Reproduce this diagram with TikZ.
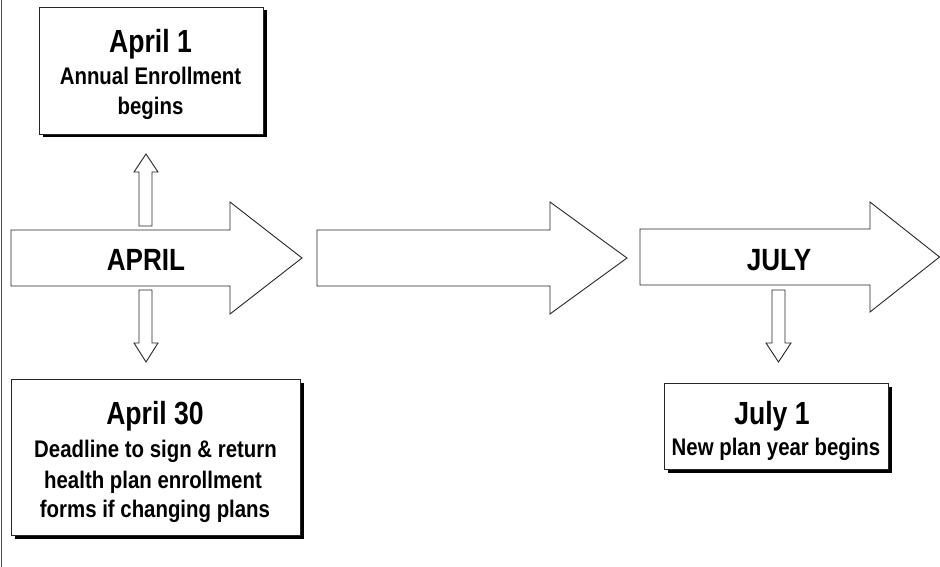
\documentclass[tikz,border=0pt]{standalone}
\usepackage{fontspec}
\setmainfont{Liberation Sans}
\newfontfamily\nar{Liberation Sans}[FakeStretch=0.85]
\newfontfamily\narT{Liberation Sans}[FakeStretch=0.83]
\usetikzlibrary{shadows}
\begin{document}
\begin{tikzpicture}[x=1pt,y=-1pt,
  box/.style={draw=black!85, line width=0.9pt, fill=white, inner sep=0pt, outer sep=0pt, anchor=north west,
    drop shadow={shadow xshift=3.5pt, shadow yshift=-3.5pt, fill=black, opacity=1}},
  blk/.style={draw=black!85, line width=0.9pt, fill=white, line join=miter},
  ttl/.style={font=\narT\bfseries\fontsize{32}{32}\selectfont, anchor=base, inner sep=0pt},
  bdy/.style={font=\nar\bfseries\fontsize{24}{24}\selectfont, anchor=base, inner sep=0pt},
  lbl/.style={font=\nar\bfseries\fontsize{30.7}{30.7}\selectfont, anchor=base, inner sep=0pt},
]
\useasboundingbox[fill=white] (0,0) rectangle (940,567);
% left border line
\draw[black!70, line width=1pt] (1.5,0) -- (1.5,567);

% big block arrows
\draw[blk] (11,230) -- (230,230) -- (230,202) -- (302,258) -- (230,314) -- (230,286) -- (11,286) -- cycle;
\draw[blk] (317,230) -- (550,230) -- (550,202) -- (627,258) -- (550,314) -- (550,286) -- (317,286) -- cycle;
\draw[blk] (640,229) -- (870,229) -- (870,202) -- (939.5,257) -- (870,312) -- (870,285) -- (640,285) -- cycle;

% small block arrows
\draw[blk] (139,226) -- (139,172) -- (134,172) -- (146,154) -- (158,172) -- (152,172) -- (152,226) -- cycle;
\draw[blk] (139,290) -- (139,343) -- (134,343) -- (146,362) -- (158,343) -- (152,343) -- (152,290) -- cycle;
\draw[blk] (772,290) -- (772,343) -- (766,343) -- (778.5,362) -- (791,343) -- (785,343) -- (785,290) -- cycle;

% arrow labels
\node[lbl] (april) at (146,270) {APRIL};
\node[lbl] (july) at (779,270) {JULY};

% boxes
\node[box, minimum width=224pt, minimum height=127pt] (b1) at (39,7) {};
\node[box, minimum width=289pt, minimum height=156pt] (b2) at (11,379) {};
\node[box, minimum width=224pt, minimum height=86pt] (b3) at (664,383) {};

% box texts
\node[ttl] (b1t) at (150.5,53) {April 1};
\node[bdy] (b1a) at (150.5,85) {Annual Enrollment};
\node[bdy] (b1b) at (150.5,115) {begins};

\node[ttl] (b2t) at (155,424) {April 30};
\node[bdy] (b2a) at (155.5,457) {Deadline to sign \& return};
\node[bdy] (b2b) at (153,488) {health plan enrollment};
\node[bdy] (b2c) at (155,517) {forms if changing plans};

\node[ttl] (b3t) at (772,424) {July 1};
\node[bdy] (b3a) at (776,455) {New plan year begins};
\end{tikzpicture}
\end{document}
